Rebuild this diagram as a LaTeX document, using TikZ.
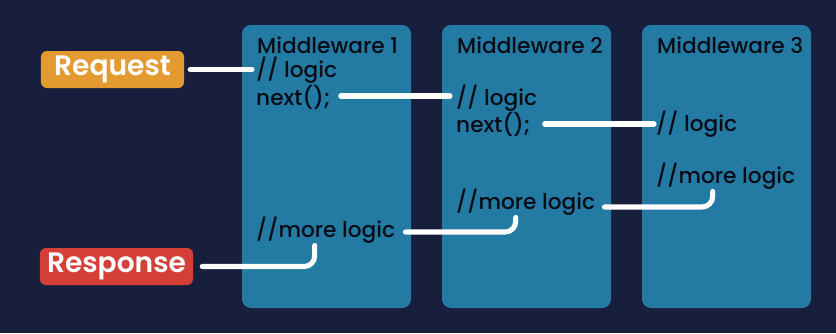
\documentclass[tikz,border=0pt]{standalone}
\usepackage{fontspec}
\setmainfont{Poppins}
\newfontfamily\codefont{Poppins Medium}
\newfontfamily\tagfont{Poppins SemiBold}
\usetikzlibrary{calc}
\usetikzlibrary{positioning}

\definecolor{navy}{HTML}{181F3C}
\definecolor{boxblue}{HTML}{237BA3}
\definecolor{reqorange}{HTML}{E39B31}
\definecolor{resred}{HTML}{D44038}
\definecolor{ink}{HTML}{0A0C16}

\begin{document}
\begin{tikzpicture}[x=0.03cm, y=-0.03cm,
    mwbox/.style={fill=boxblue, rounded corners=7.5pt},
    code/.style={anchor=west, inner sep=0, text=ink, font=\codefont\fontsize{18.5}{21}\selectfont},
    tag/.style={rounded corners=5pt, text=white, inner sep=0,
      minimum height=1.11cm, font=\tagfont\fontsize{24}{27}\selectfont},
    wire/.style={white, line width=4.3pt, line cap=round, rounded corners=9pt}]

      \fill [navy] (0,0) rectangle (836,333);

      % the three middleware columns
      \foreach \i/\x in {1/242, 2/442, 3/642} {
        \fill [mwbox] (\x,25) rectangle ++(169,283);
        \node [code] (title\i) at (\x+15, 45) {Middleware \i};
      }

      \node [tag, fill=reqorange, minimum width=4.29cm] (req) at (112.5, 69.5) {Request};
      \node [tag, fill=resred, minimum width=4.59cm] (resp) at (116.5, 266.5) {Response};

      \node [code] (logic1) at (256, 70) {// logic};
      \node [code] (next1) at (256, 97) {next();};
      \node [code] (logic2) at (456, 98) {// logic};
      \node [code] (next2) at (456, 124) {next();};
      \node [code] (logic3) at (656, 124) {// logic};

      \node [code] (more3) at (656, 176) {//more logic};
      \node [code] (more2) at (456, 202) {//more logic};
      \node [code] (more1) at (256, 230) {//more logic};

      % going in
      \draw [wire] ($(req.east)+(6,0)$) -- ($(req.east -| logic1.west)+(-4,0)$);
      \draw [wire] ($(next1.east)+(10,-1)$) -- ($(next1.east -| logic2.west)+(-6,-1)$);
      \draw [wire] ($(next2.east)+(14,0)$) -- ($(next2.east -| logic3.west)+(-2,0)$);

      % coming back
      \draw [wire] ($(more3.south)+(-13,2)$) |- ($(more2.east)+(9,5)$);
      \draw [wire] ($(more2.south)+(-10,2)$) |- ($(more1.east)+(10,2)$);
      \draw [wire] ($(more1.south)+(-11,2)$) |- ($(resp.east)+(9,0)$);

\end{tikzpicture}
\end{document}
